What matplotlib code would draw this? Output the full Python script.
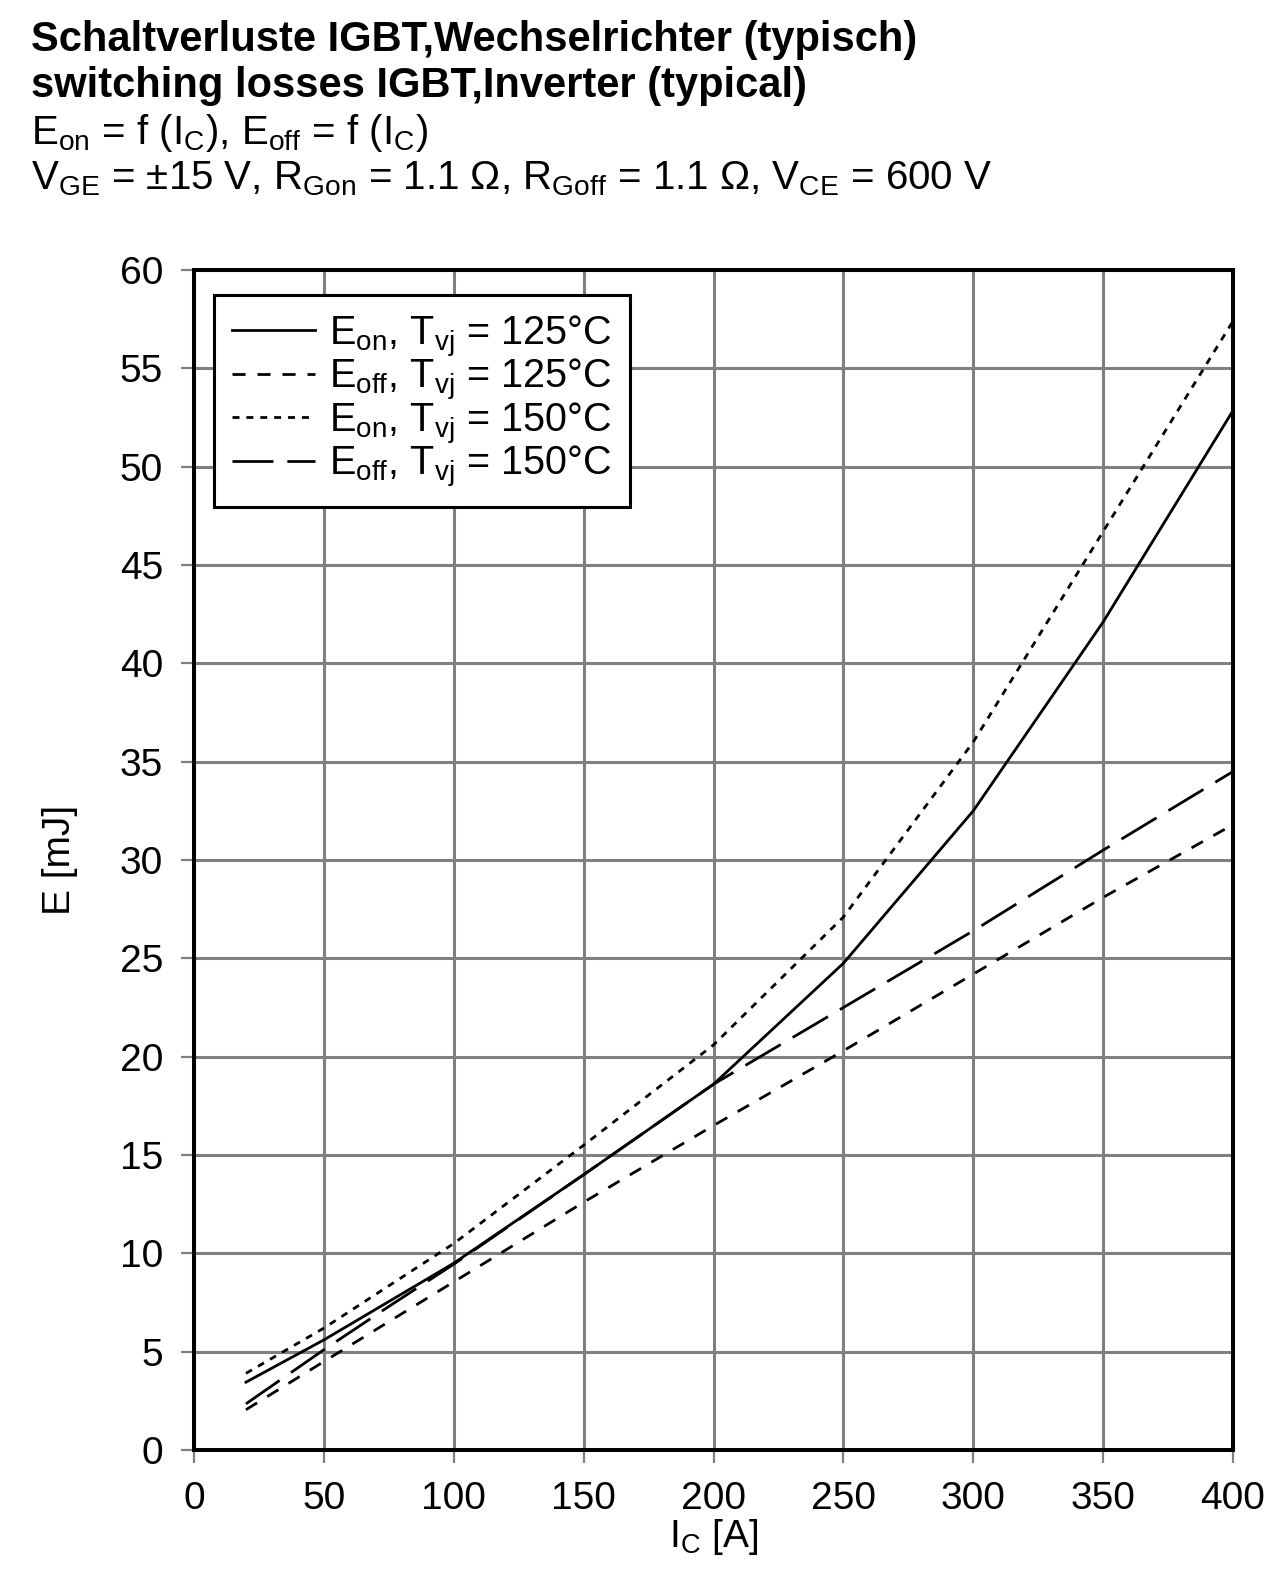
import numpy as np
import matplotlib
matplotlib.use("Agg")
import matplotlib.pyplot as plt

plt.rcParams['font.family'] = ['Liberation Sans', 'DejaVu Sans']
plt.rcParams['mathtext.fontset'] = 'custom'
plt.rcParams['mathtext.rm'] = 'Liberation Sans'
plt.rcParams['mathtext.it'] = 'Liberation Sans:italic'
plt.rcParams['mathtext.bf'] = 'Liberation Sans:bold'
plt.rcParams['lines.scale_dashes'] = False

# data
ic = [20, 50, 100, 150, 200, 250, 300, 350, 400]
eon_125 = [3.45, 5.6, 9.5, 14.0, 18.6, 24.75, 32.5, 42.1, 52.85]
eoff_125 = [2.05, 4.5, 8.55, 12.6, 16.5, 20.3, 24.2, 28.1, 31.8]
eon_150 = [3.9, 6.2, 10.5, 15.5, 20.6, 27.1, 36.0, 46.7, 57.4]
ic_off150 = [20, 50, 75, 100, 150, 200, 250, 300, 350, 400]
eoff_150 = [2.35, 5.1, 7.3, 9.45, 14.0, 18.6, 22.5, 26.4, 30.5, 34.5]

xticks = [0, 50, 100, 150, 200, 250, 300, 350, 400]
yticks = [0, 5, 10, 15, 20, 25, 30, 35, 40, 45, 50, 55, 60]

fig = plt.figure(figsize=(12.78, 15.77), dpi=100)
ax = fig.add_axes([0.1518, 0.0805, 0.813, 0.7483])

lw = 2.0
ax.plot(ic, eon_125, color='black', lw=lw, ls='-', label=r'E$_\mathrm{on}$, T$_\mathrm{vj}$ = 125°C', zorder=3)
ax.plot(ic, eoff_125, color='black', lw=lw, ls=(0, (9.4, 8.6)), label=r'E$_\mathrm{off}$, T$_\mathrm{vj}$ = 125°C', zorder=3)
ax.plot(ic, eon_150, color='black', lw=lw, ls=(0, (5, 5)), label=r'E$_\mathrm{on}$, T$_\mathrm{vj}$ = 150°C', zorder=3)
ax.plot(ic_off150, eoff_150, color='black', lw=lw, ls=(0, (29.5, 10)), label=r'E$_\mathrm{off}$, T$_\mathrm{vj}$ = 150°C', zorder=3)

ax.set_xlim(0, 400)
ax.set_ylim(0, 60)
ax.set_xticks(xticks)
ax.set_yticks(yticks)
ax.grid(True, color='#808080', lw=2.2)
ax.set_axisbelow(True)
for s in ax.spines.values():
    s.set_linewidth(2.9)
    s.set_color('black')
ax.tick_params(axis='both', direction='out', length=9.4, width=1.6, color='#808080', labelsize=28)
ax.tick_params(axis='y', pad=13)
ax.tick_params(axis='x', pad=13)

ax.set_xlabel(r'I$_\mathrm{C}$ [A]', fontsize=28, labelpad=0)
ax.set_ylabel('E [mJ]', fontsize=28, labelpad=30)

leg = ax.legend(loc='upper left', bbox_to_anchor=(0.019, 0.979), borderaxespad=0,
                fontsize=28.5, handlelength=2.1, labelspacing=-0.06, handletextpad=0.37,
                borderpad=0.45, fancybox=False, framealpha=1, edgecolor='black')
leg.get_frame().set_linewidth(2.2)

fig.text(0.024, 0.9745, 'Schaltverluste IGBT,Wechselrichter (typisch)', fontsize=30, fontweight='bold', va='center')
fig.text(0.024, 0.9455, 'switching losses IGBT,Inverter (typical)', fontsize=30, fontweight='bold', va='center')
fig.text(0.024, 0.9155, r'E$_\mathrm{on}$ = f (I$_\mathrm{C}$), E$_\mathrm{off}$ = f (I$_\mathrm{C}$)', fontsize=29, va='center')
fig.text(0.024, 0.8865, r'V$_\mathrm{GE}$ = ±15 V, R$_\mathrm{Gon}$ = 1.1 Ω, R$_\mathrm{Goff}$ = 1.1 Ω, V$_\mathrm{CE}$ = 600 V', fontsize=29, va='center')

fig.savefig('out.png', dpi=100)
